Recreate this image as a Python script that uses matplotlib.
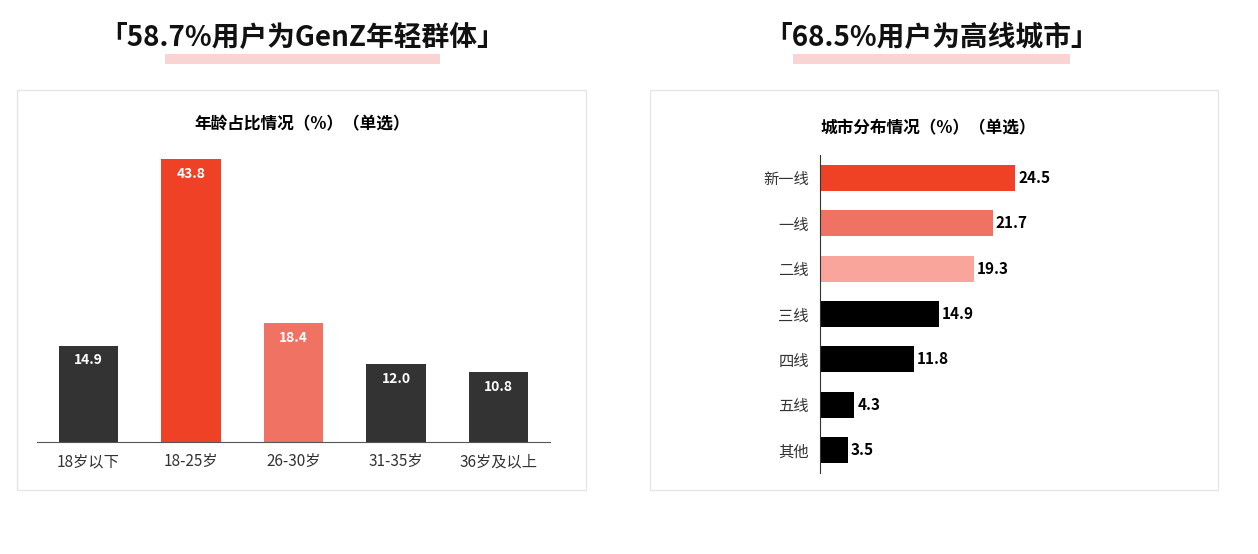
import matplotlib.pyplot as plt
from matplotlib.patches import Rectangle
import numpy as np

plt.rcParams['font.family'] = 'Noto Sans CJK SC'

age_labels = ['18岁以下', '18-25岁', '26-30岁', '31-35岁', '36岁及以上']
age_values = [14.9, 43.8, 18.4, 12.0, 10.8]
age_colors = ['#333333', '#ee4126', '#f07262', '#333333', '#333333']

city_labels = ['新一线', '一线', '二线', '三线', '四线', '五线', '其他']
city_values = [24.5, 21.7, 19.3, 14.9, 11.8, 4.3, 3.5]
city_colors = ['#ee4126', '#f07262', '#f9a59c', '#000000', '#000000', '#000000', '#000000']

W, H = 1258, 554
fig = plt.figure(figsize=(W / 100, H / 100), dpi=100)

def px_axes(x0, y0, x1, y1):
    # pixel box (top-left origin) -> figure axes
    return fig.add_axes([x0 / W, 1 - y1 / H, (x1 - x0) / W, (y1 - y0) / H])

# panel frames, headline titles and pink highlights
for (bx0, bx1, hx0, hx1, cx, title) in [(17, 586, 165, 440, 302, '「58.7%用户为GenZ年轻群体」'),
                                        (650, 1218, 793, 1070, 932, '「68.5%用户为高线城市」')]:
    fig.patches.append(Rectangle((bx0 / W, 1 - 490 / H), (bx1 - bx0) / W, 400 / H,
                                 transform=fig.transFigure, fill=False, ec='#e6e6e6', lw=1))
    fig.patches.append(Rectangle((hx0 / W, 1 - 64 / H), (hx1 - hx0) / W, 10 / H,
                                 transform=fig.transFigure, color='#fad4d2', lw=0, zorder=0))
    fig.text(cx / W, 1 - 38 / H, title, ha='center', va='center', fontsize=20,
             fontweight='bold', color='#111111', zorder=2)

fig.text(302 / W, 1 - 124 / H, '年龄占比情况（%）（单选）', ha='center', va='center',
         fontsize=12, fontweight='bold')
fig.text(928 / W, 1 - 128 / H, '城市分布情况（%）（单选）', ha='center', va='center',
         fontsize=12, fontweight='bold')

# left: age columns
ax1 = px_axes(37, 150, 550, 442)
x = np.arange(len(age_values))
ax1.bar(x, age_values, width=0.58, color=age_colors)
for xi, v in zip(x, age_values):
    ax1.text(xi, v - 1.2, f'{v:.1f}', ha='center', va='top', color='white',
             fontsize=10, fontweight='bold')
ax1.set_xlim(-0.5, len(x) - 0.5)
ax1.set_ylim(0, 292 / 6.46)
ax1.set_xticks(x)
ax1.set_xticklabels(age_labels, fontsize=11, color='#333333')
ax1.tick_params(axis='x', length=0, pad=8)
ax1.set_yticks([])
for s in ['top', 'right', 'left']:
    ax1.spines[s].set_visible(False)
ax1.spines['bottom'].set_color('#555555')

# right: city bars
ax2 = px_axes(820, 155, 1150, 473)
y = np.arange(len(city_values))
ax2.barh(y, city_values, height=0.57, color=city_colors)
for yi, v in zip(y, city_values):
    ax2.text(v + 0.4, yi, f'{v:.1f}', ha='left', va='center', fontsize=11, fontweight='bold')
ax2.set_ylim(len(y) - 0.5, -0.5)
ax2.set_xlim(0, 330 / 7.96)
ax2.set_yticks(y)
ax2.set_yticklabels(city_labels, fontsize=11, color='#333333')
ax2.tick_params(axis='y', length=0, pad=8)
ax2.set_xticks([])
for s in ['top', 'right', 'bottom']:
    ax2.spines[s].set_visible(False)
ax2.spines['left'].set_color('#333333')

fig.savefig('out.png', dpi=100)
